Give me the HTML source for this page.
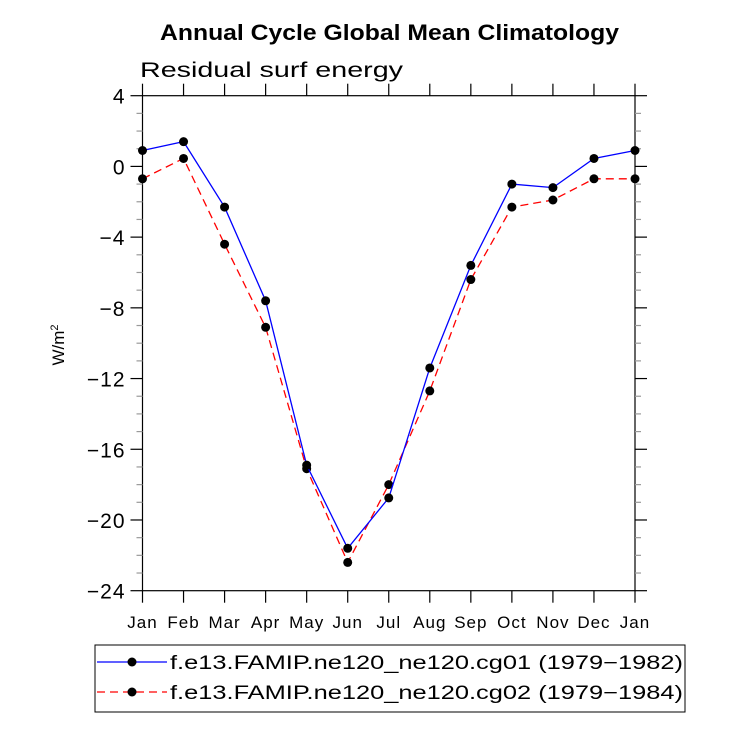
<!DOCTYPE html>
<html><head><meta charset="utf-8"><style>body{margin:0;background:#fff}svg{display:block;font-family:"Liberation Sans",sans-serif}</style></head>
<body>
<svg id="c" width="732" height="732">
<text x="160" y="40" font-size="22" font-weight="bold" textLength="459" lengthAdjust="spacingAndGlyphs">Annual Cycle Global Mean Climatology</text>
<text x="140" y="77" font-size="21" textLength="263" lengthAdjust="spacingAndGlyphs">Residual surf energy</text>
<text transform="translate(64,345) rotate(-90)" text-anchor="middle" font-size="17">W/m<tspan dy="-6" font-size="11">2</tspan></text>
<rect x="142.5" y="95.7" width="492.5" height="495" fill="none" stroke="#000" stroke-width="1.2"/>
<g id="ax"></g><g id="marks"></g>
<rect x="95" y="645" width="590" height="67" fill="none" stroke="#000" stroke-width="1"/>
<g>
<line x1="97" y1="662" x2="167" y2="662" stroke="#00f" stroke-width="1.3"/><circle cx="132" cy="662" r="4.5"/>
<text x="170" y="669" font-size="19" textLength="513" lengthAdjust="spacingAndGlyphs">f.e13.FAMIP.ne120_ne120.cg01 (1979−1982)</text></g>
<g>
<line x1="97" y1="692" x2="167" y2="692" stroke="#f00" stroke-width="1.3" stroke-dasharray="8,5"/><circle cx="132" cy="692" r="4.5"/>
<text x="170" y="699" font-size="19" textLength="513" lengthAdjust="spacingAndGlyphs">f.e13.FAMIP.ne120_ne120.cg02 (1979−1984)</text></g>
</svg>
<script>
const months=["Jan","Feb","Mar","Apr","May","Jun","Jul","Aug","Sep","Oct","Nov","Dec","Jan"];
const cg01=[0.9,1.4,-2.3,-7.6,-16.9,-21.6,-18.75,-11.4,-5.6,-1.0,-1.2,0.45,0.9];
const cg02=[-0.7,0.45,-4.4,-9.1,-17.1,-22.4,-18.0,-12.7,-6.4,-2.3,-1.9,-0.7,-0.7];
const yTicks=[4,0,-4,-8,-12,-16,-20,-24];
const L=142.5,R=635,T=95.7,B=590.7,ymax=4,ymin=-24;
const X=i=>L+i*(R-L)/(months.length-1);
const Y=v=>T+(ymax-v)*(B-T)/(ymax-ymin);
const NS="http://www.w3.org/2000/svg";
const ax=document.getElementById('ax'),mk=document.getElementById('marks');
function el(t,a,p){const e=document.createElementNS(NS,t);for(const k in a)e.setAttribute(k,a[k]);p.appendChild(e);return e;}
for(let v=ymax;v>=ymin;v--){const maj=v%4===0,len=maj?12:6,y=Y(v);
 const a=el('line',{x1:L-len,x2:L,y1:y,y2:y,stroke:maj?'#000':'#999','stroke-width':1.2},ax);
 
 
 const b=el('line',{x1:R,x2:R+len,y1:y,y2:y,stroke:maj?'#000':'#999','stroke-width':1.2},ax);
 
 }
yTicks.forEach(v=>{const t=el('text',{x:L-17,y:Y(v)+8,'text-anchor':'end','font-size':21,'letter-spacing':1},ax);t.textContent=String(v).replace('-','−');
 
 });
months.forEach((m,i)=>{const x=X(i);
 const a=el('line',{x1:x,x2:x,y1:B,y2:B+12,stroke:'#000','stroke-width':1.2},ax);
 
 
 const b=el('line',{x1:x,x2:x,y1:T-12,y2:T,stroke:'#000','stroke-width':1.2},ax);
 
 
 const t=el('text',{x:x,y:628,'text-anchor':'middle','font-size':17,'letter-spacing':1},ax);t.textContent=m;
 
 });
function series(d,col,dash,name){
 const p=el('polyline',{points:d.map((v,i)=>X(i)+','+Y(v)).join(' '),fill:'none',stroke:col,'stroke-width':1.3,'stroke-dasharray':dash},mk);
 
 
 d.forEach((v,i)=>{const c=el('circle',{cx:X(i),cy:Y(v),r:4.5,fill:'#000'},mk);
  
  });}
series(cg02,'#f00','8,5','cg02');
series(cg01,'#00f','none','cg01');
</script>
</body></html>
